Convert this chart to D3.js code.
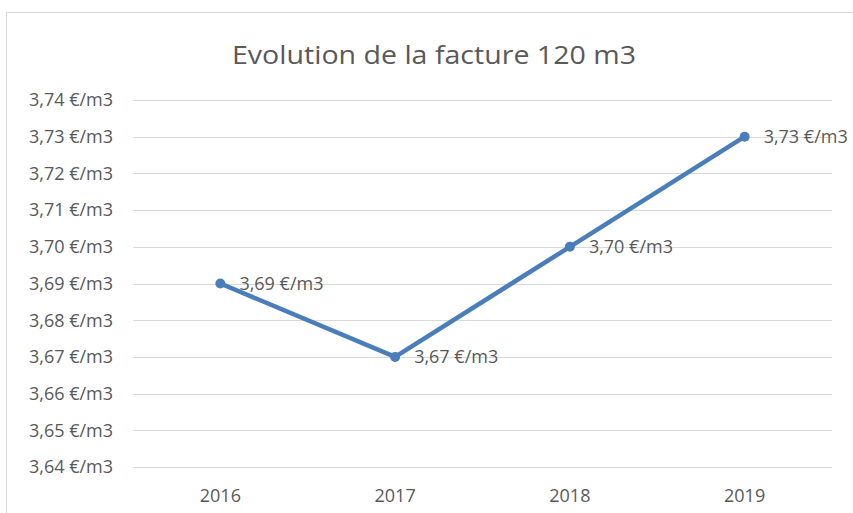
<!DOCTYPE html>
<html>
<head>
<meta charset="utf-8">
<script src="https://cdn.jsdelivr.net/npm/d3@7"></script>
<style>
    body { margin: 0; background: #fff; }
    text { font-family: "Open Sans", sans-serif; fill: #595959; }
</style>
</head>
<body>
<div id="wrapper"></div>
<script>
// data
const years = ['2016', '2017', '2018', '2019'];
const prices = [3.69, 3.67, 3.70, 3.73];
const yTicks = [3.64, 3.65, 3.66, 3.67, 3.68, 3.69, 3.70, 3.71, 3.72, 3.73, 3.74];

const fmt = v => d3.format('.2f')(v).replace('.', ',') + ' €/m3';

function draw() {
    const dimensions = {
        width: 853,
        height: 513,
        margin: { top: 100, right: 21, bottom: 46, left: 133 },
    };
    dimensions.boundedWidth = dimensions.width
        - dimensions.margin.left
        - dimensions.margin.right;
    dimensions.boundedHeight = dimensions.height
        - dimensions.margin.top
        - dimensions.margin.bottom;

    const wrapper = d3.select('#wrapper')
        .append('svg')
        .attr('width', dimensions.width)
        .attr('height', dimensions.height);

    // chart area border
    wrapper.append('rect')
        .attr('x', 6.5)
        .attr('y', 12.5)
        .attr('width', 900)
        .attr('height', 600)
        .attr('fill', 'none')
        .attr('stroke', '#d9d9d9');

    wrapper.append('text')
        .attr('x', 434)
        .attr('y', 64)
        .attr('text-anchor', 'middle')
        .style('font-size', '26px')
        .attr('textLength', 404)
        .attr('lengthAdjust', 'spacingAndGlyphs')
        .text('Evolution  de la facture 120 m3');

    const bounds = wrapper.append('g')
        .attr('transform', `translate(${dimensions.margin.left}, ${dimensions.margin.top})`);

    const x = d3.scaleBand()
        .domain(years)
        .range([0, dimensions.boundedWidth]);

    const y = d3.scaleLinear()
        .domain([3.64, 3.74])
        .range([367, 0]);

    // gridlines
    bounds.selectAll('.grid')
        .data(yTicks)
        .join('line')
        .attr('class', 'grid')
        .attr('x1', 0)
        .attr('x2', dimensions.boundedWidth)
        .attr('y1', d => Math.round(y(d)) + 0.5)
        .attr('y2', d => Math.round(y(d)) + 0.5)
        .attr('stroke', '#d9d9d9')
        .attr('stroke-width', 1.2);

    // y labels
    bounds.selectAll('.ylab')
        .data(yTicks)
        .join('text')
        .attr('class', 'ylab')
        .attr('x', -20)
        .attr('y', d => y(d))
        .attr('dy', '0.35em')
        .attr('text-anchor', 'end')
        .style('font-size', '18px')
        .text(fmt);

    // x labels
    bounds.selectAll('.xlab')
        .data(years)
        .join('text')
        .attr('class', 'xlab')
        .attr('x', d => x(d) + x.bandwidth() / 2)
        .attr('y', 402)
        .attr('text-anchor', 'middle')
        .style('font-size', '18px')
        .text(d => d);

    const line = d3.line()
        .x((d, i) => x(years[i]) + x.bandwidth() / 2)
        .y(d => y(d));

    bounds.append('path')
        .datum(prices)
        .attr('d', line)
        .attr('fill', 'none')
        .attr('stroke', '#4a7ebb')
        .attr('stroke-width', 4.5)
        .attr('stroke-linejoin', 'round');

    bounds.selectAll('.dot')
        .data(prices)
        .join('circle')
        .attr('class', 'dot')
        .attr('cx', (d, i) => x(years[i]) + x.bandwidth() / 2)
        .attr('cy', d => y(d))
        .attr('r', 5)
        .attr('fill', '#4a7ebb');

    bounds.selectAll('.dlab')
        .data(prices)
        .join('text')
        .attr('class', 'dlab')
        .attr('x', (d, i) => x(years[i]) + x.bandwidth() / 2 + 19)
        .attr('y', d => y(d))
        .attr('dy', '0.35em')
        .style('font-size', '18px')
        .text(fmt);
}

draw();
</script>
</body>
</html>
